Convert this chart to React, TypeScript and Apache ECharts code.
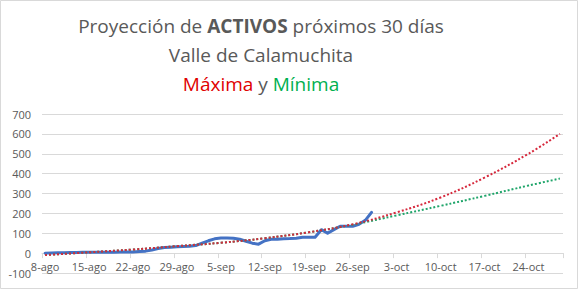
import React, { useEffect, useRef } from "react";
import * as echarts from "echarts";

// Days from 8-ago to 29-oct
const MONTHS = ["ago", "sep", "oct"];
const MONTH_DAYS = [31, 30, 31];
const START_DAY = 8;
const DAY_COUNT = 83;

const categories: string[] = [];
{
  let m = 0;
  let d = START_DAY;
  for (let i = 0; i < DAY_COUNT; i++) {
    categories.push(`${d}-${MONTHS[m]}`);
    d++;
    if (d > MONTH_DAYS[m]) {
      d = 1;
      m++;
    }
  }
}

// Actual active cases (8-ago .. 29-sep)
const activos = [
  0, 1, 2, 2, 3, 3, 4, 4, 5, 5, 5, 5, 6, 6, 6,
  8, 10, 16, 23, 28, 30, 32, 33, 35, 38, 50, 62, 72, 76, 76,
  75, 70, 60, 50, 45, 62, 70, 70, 72, 73, 75, 80, 80, 80, 118,
  100, 118, 135, 135, 135, 145, 165, 205,
];

// Trend lines, read at weekly points (index: value)
const maximaIdx = [0, 7, 14, 21, 28, 35, 42, 49, 56, 63, 70, 77, 82];
const maximaVal = [-10, 4, 18, 35, 52, 75, 105, 145, 205, 280, 380, 500, 600];
const minimaIdx = [0, 7, 14, 21, 28, 35, 42, 49, 56, 63, 70, 77, 82];
const minimaVal = [-10, 4, 18, 35, 52, 75, 105, 143, 190, 238, 288, 340, 375];

const yTicks = { min: -100, max: 700, interval: 100 };

function sparse(idx: number[], val: number[]) {
  const arr: (number | null)[] = new Array(DAY_COUNT).fill(null);
  idx.forEach((k, j) => (arr[k] = val[j]));
  return arr;
}

const FONT = "Open Sans";
const GREY = "#595959";
const TITLE_X = 261;

export default function App() {
  const ref = useRef<HTMLDivElement>(null);
  useEffect(() => {
    if (!ref.current) return;
    const chart = echarts.init(ref.current, undefined, { renderer: "svg" });
    chart.setOption({
      animation: false,
      backgroundColor: "#ffffff",
      grid: { left: 42, right: 15, top: 114, bottom: 16, containLabel: false },
      graphic: [
        {
          type: "rect",
          shape: { x: 0.5, y: 0.5, width: 577, height: 288 },
          style: { fill: "none", stroke: "#d9d9d9", lineWidth: 1 },
          silent: true,
        },
        {
          type: "text",
          x: TITLE_X,
          y: 26,
          style: {
            text: "Proyección de {b|ACTIVOS} próximos 30 días",
            fontFamily: FONT,
            fontSize: 19,
            fill: GREY,
            align: "center",
            verticalAlign: "middle",
            rich: {
              b: { fontFamily: FONT, fontSize: 19, fontWeight: "bold", fill: GREY },
            },
          },
        },
        {
          type: "text",
          x: TITLE_X,
          y: 55,
          style: {
            text: "Valle de Calamuchita",
            fontFamily: FONT,
            fontSize: 19,
            fill: GREY,
            align: "center",
            verticalAlign: "middle",
          },
        },
        {
          type: "text",
          x: TITLE_X,
          y: 84,
          style: {
            text: "{r|Máxima} y {g|Mínima}",
            fontFamily: FONT,
            fontSize: 19,
            fill: GREY,
            align: "center",
            verticalAlign: "middle",
            rich: {
              r: { fontFamily: FONT, fontSize: 19, fill: "#e00000" },
              g: { fontFamily: FONT, fontSize: 19, fill: "#00b050" },
            },
          },
        },
      ],
      xAxis: [
        {
          type: "category",
          data: categories,
          boundaryGap: true,
          position: "bottom",
          axisLine: { show: false, onZero: false },
          axisTick: { show: false },
          axisLabel: {
            interval: 6,
            color: GREY,
            fontFamily: FONT,
            fontSize: 11,
            margin: -12,
          },
          splitLine: { show: false },
        },
        {
          type: "category",
          data: categories,
          boundaryGap: true,
          position: "bottom",
          axisLine: { show: true, onZero: true, lineStyle: { color: "#d9d9d9", width: 1 } },
          axisTick: { show: true, interval: 6, length: 5, lineStyle: { color: "#d9d9d9" } },
          axisLabel: { show: false },
          splitLine: { show: false },
        },
      ],
      yAxis: {
        type: "value",
        min: yTicks.min,
        max: yTicks.max,
        interval: yTicks.interval,
        axisLine: { show: false },
        axisTick: { show: false },
        axisLabel: { color: GREY, fontFamily: FONT, fontSize: 11, margin: 11, showMinLabel: true },
        splitLine: { lineStyle: { color: "#d9d9d9", width: 1 } },
      },
      series: [
        {
          name: "Activos",
          type: "line",
          data: activos,
          symbol: "none",
          lineStyle: { color: "#4472c4", width: 3, cap: "round", join: "round" },
          z: 2,
        },
        {
          name: "Mínima",
          type: "line",
          data: sparse(minimaIdx, minimaVal),
          connectNulls: true,
          smooth: 0.4,
          symbol: "none",
          lineStyle: { color: "#1fa56a", width: 2, type: [2, 2] },
          z: 3,
        },
        {
          name: "Máxima",
          type: "line",
          data: sparse(maximaIdx, maximaVal),
          connectNulls: true,
          smooth: 0.4,
          symbol: "none",
          lineStyle: { color: "#d6283c", width: 2, type: [2, 2] },
          z: 4,
        },
      ],
    });
    return () => chart.dispose();
  }, []);
  return (
    <div
      ref={ref}
      style={{ position: "fixed", left: 0, top: 0, width: 578, height: 289 }}
    />
  );
}
